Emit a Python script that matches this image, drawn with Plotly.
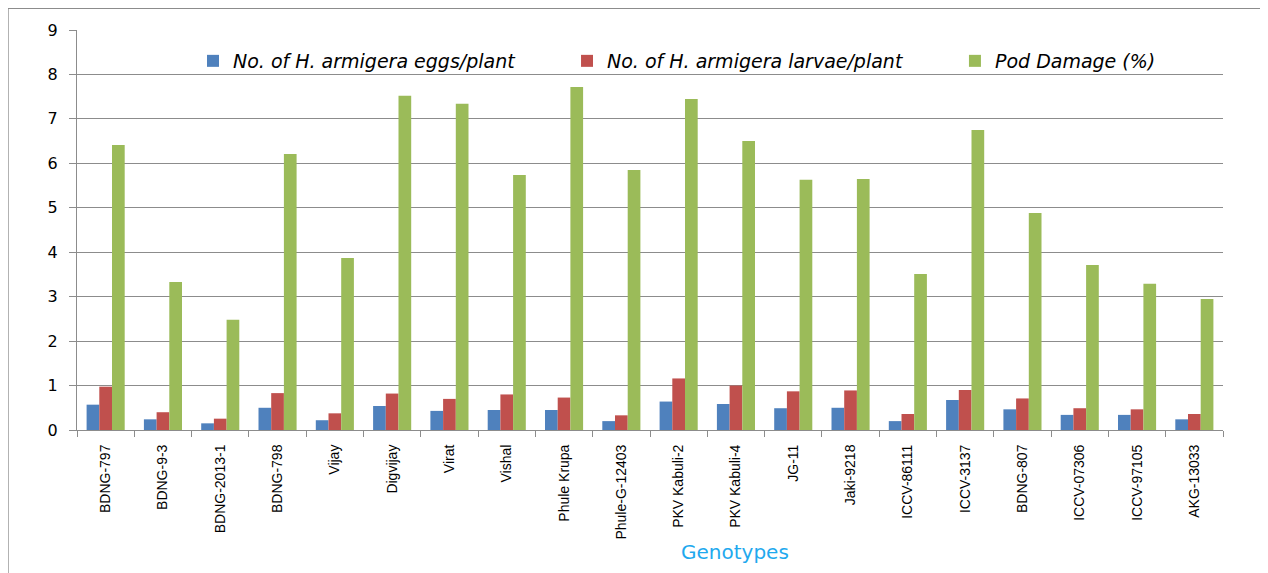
import plotly.graph_objects as go

genotypes = ["BDNG-797", "BDNG-9-3", "BDNG-2013-1", "BDNG-798", "Vijay", "Digvijay", "Virat",
             "Vishal", "Phule Krupa", "Phule-G-12403", "PKV Kabuli-2", "PKV Kabuli-4", "JG-11",
             "Jaki-9218", "ICCV-86111", "ICCV-3137", "BDNG-807", "ICCV-07306", "ICCV-97105", "AKG-13033"]
eggs = [0.57, 0.24, 0.15, 0.50, 0.22, 0.54, 0.43, 0.45, 0.45, 0.20,
        0.64, 0.585, 0.49, 0.50, 0.20, 0.675, 0.465, 0.34, 0.34, 0.24]
larvae = [0.975, 0.40, 0.255, 0.83, 0.375, 0.82, 0.70, 0.80, 0.73, 0.33,
          1.16, 1.00, 0.87, 0.89, 0.36, 0.90, 0.71, 0.49, 0.465, 0.36]
pod_damage = [6.41, 3.33, 2.48, 6.21, 3.87, 7.52, 7.34, 5.74, 7.72, 5.85,
              7.45, 6.50, 5.63, 5.65, 3.51, 6.75, 4.88, 3.71, 3.29, 2.95]
y_ticks = list(range(0, 10))

series_names = ["No. of H. armigera eggs/plant", "No. of H. armigera larvae/plant", "Pod Damage (%)"]
colors = ["#4F81BD", "#C0504D", "#9BBB59"]
legend_ids = ["legend", "legend2", "legend3"]
legend_x = [0.1012, 0.4276, 0.7661]

fig = go.Figure()
for name, vals, col, lid in zip(series_names, [eggs, larvae, pod_damage], colors, legend_ids):
    fig.add_trace(go.Bar(x=genotypes, y=vals, name=name, marker_color=col,
                         marker_line_width=0, legend=lid))

grid_col = "#8C8C8C"
leg_font = dict(family="DejaVu Sans", size=19, color="#000000", style="italic")
legends = {}
for lid, lx in zip(legend_ids, legend_x):
    legends[lid] = dict(orientation="h", x=lx, y=0.9225, xanchor="left", yanchor="middle",
                        font=leg_font, bgcolor="rgba(0,0,0,0)")

fig.update_layout(
    width=1260, height=565,
    margin=dict(l=69, r=45, t=22, b=143),
    paper_bgcolor="white", plot_bgcolor="white",
    barmode="group", bargap=0.335, bargroupgap=0,
    showlegend=True,
    font=dict(family="DejaVu Sans", color="#000000"),
    xaxis=dict(type="category", showgrid=False, showline=True, linecolor=grid_col, linewidth=1,
               ticks="outside", tickson="boundaries", ticklen=6, tickcolor=grid_col,
               ticklabelstandoff=8,
               tickangle=-90, tickfont=dict(family="Liberation Sans Narrow, Arial Narrow, Liberation Sans", size=14, color="#000000")),
    yaxis=dict(range=[0, 9], tickvals=y_ticks, showgrid=True, gridcolor=grid_col, gridwidth=1,
               showline=True, linecolor=grid_col, linewidth=1, ticks="outside", ticklen=7,
               tickcolor=grid_col, zeroline=False, ticklabelstandoff=8,
               tickfont=dict(family="DejaVu Sans", size=16, color="#000000")),
    annotations=[dict(text="Genotypes", xref="paper", yref="paper", x=0.574, y=-0.305,
                      showarrow=False, xanchor="center", yanchor="middle",
                      font=dict(family="DejaVu Sans", size=20, color="#1FA9EE"))],
    shapes=[dict(type="rect", xref="paper", yref="paper", x0=-0.0605, x1=1.0375,
                 y0=-0.40, y1=1.055, line=dict(color="#8C8C8C", width=2), fillcolor="rgba(0,0,0,0)",
                 layer="below")],
    **legends,
)

fig.write_html("out.html")
